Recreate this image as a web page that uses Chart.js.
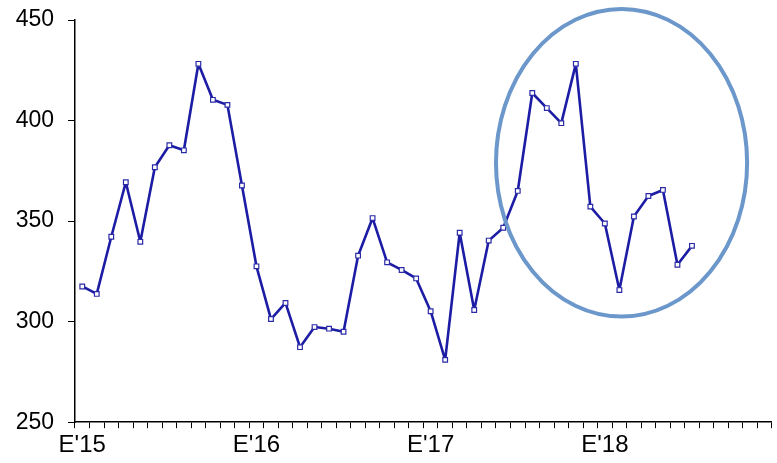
<!DOCTYPE html>
<html>
<head>
<meta charset="utf-8">
<script src="https://cdn.jsdelivr.net/npm/chart.js@4.4.1/dist/chart.umd.min.js"></script>
<style>
  html, body { margin: 0; padding: 0; background: #fff; }
  #wrap { width: 777px; height: 463px; }
</style>
</head>
<body>
<div id="wrap"><canvas id="chart" width="777" height="463"></canvas></div>
<script>
// monthly, Jan 2015 .. Dec 2018
const years = ['15', '16', '17', '18'];
const yearLabels = ["E'15", "E'16", "E'17", "E'18"];
const months = [];
years.forEach(y => { for (let m = 1; m <= 12; m++) months.push(y + '-' + m); });

const values = [
  317.5, 313.8, 342.2, 369.3, 339.7, 376.8, 387.7, 385.2, 428.2, 410.3, 407.8, 367.7,
  327.5, 301.3, 309.3, 287.3, 297.3, 296.5, 295.0, 332.8, 351.5, 329.5, 325.7, 321.5,
  305.2, 281.0, 344.2, 305.8, 340.3, 346.7, 365.0, 413.7, 406.2, 398.7, 428.2, 357.2,
  348.8, 315.7, 352.3, 362.5, 365.5, 328.3, 337.7
];

const yTicks = [250, 300, 350, 400, 450];

// highlight ellipse, in data units (category index / value)
const ring = { cx: 37.15, cy: 379, rx: 8.65, ry: 76.5 };

const ringPlugin = {
  id: 'ring',
  afterDatasetsDraw(chart) {
    const { ctx, scales: { x, y } } = chart;
    const cx = x.getPixelForValue(ring.cx);
    const cy = y.getPixelForValue(ring.cy);
    const rx = Math.abs(x.getPixelForValue(ring.cx + ring.rx) - cx);
    const ry = Math.abs(y.getPixelForValue(ring.cy + ring.ry) - cy);
    ctx.save();
    ctx.beginPath();
    ctx.ellipse(cx, cy, rx, ry, 0, 0, Math.PI * 2);
    ctx.strokeStyle = '#6b97cb';
    ctx.lineWidth = 4;
    ctx.stroke();
    ctx.restore();
  }
};

new Chart(document.getElementById('chart'), {
  type: 'line',
  data: {
    labels: months,
    datasets: [{
      data: values,
      borderColor: '#1c1ca4',
      borderWidth: 2.6,
      borderJoinStyle: 'round',
      tension: 0,
      pointStyle: 'rect',
      pointRadius: 3.3,
      pointBorderWidth: 1.2,
      pointBorderColor: '#2a2aa8',
      pointBackgroundColor: '#fff'
    }]
  },
  options: {
    responsive: false,
    animation: false,
    layout: { padding: { top: 20, right: 2, left: 0, bottom: 0 } },
    plugins: { legend: { display: false }, tooltip: { enabled: false } },
    scales: {
      x: {
        offset: true,
        grid: { offset: true, drawOnChartArea: false, tickLength: 6, color: '#000' },
        border: { color: '#000', width: 1.5 },
        ticks: {
          autoSkip: false,
          maxRotation: 0,
          padding: 3,
          color: '#000',
          font: { family: 'Liberation Sans', size: 24 },
          callback: (v, i) => (i % 12 === 0 ? yearLabels[i / 12] : '')
        }
      },
      y: {
        min: 250,
        max: 450,
        afterBuildTicks: s => { s.ticks = yTicks.map(v => ({ value: v })); },
        afterFit: s => { s.width = 75; s.paddingTop = 0; s.paddingBottom = 0; },
        grid: { drawOnChartArea: false, tickLength: 7, color: '#000' },
        border: { color: '#000', width: 1.5 },
        ticks: {
          padding: 14,
          color: '#000',
          font: { family: 'Liberation Sans', size: 23 }
        }
      }
    }
  },
  plugins: [ringPlugin]
});
</script>
</body>
</html>
